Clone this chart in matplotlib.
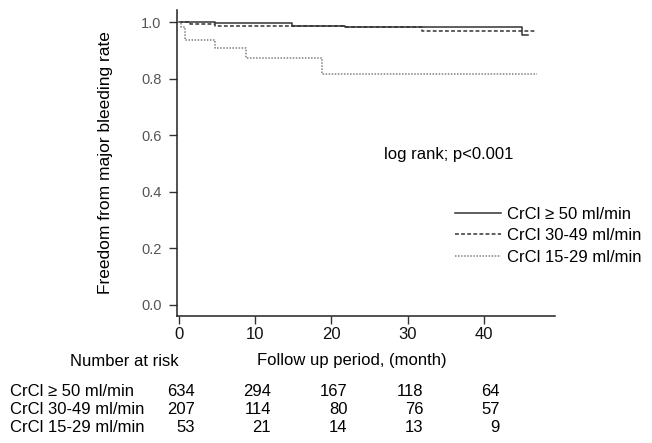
import matplotlib
matplotlib.use('Agg')
import matplotlib.pyplot as plt
import matplotlib.transforms as mtransforms

plt.rcParams['font.family'] = ['Liberation Sans', 'DejaVu Sans']

# Kaplan-Meier step curves (time in months, survival)
t_50 = [0, 4.8, 14.9, 21.8, 45.0, 45.8]
s_50 = [1.0, 0.997, 0.987, 0.983, 0.954, 0.954]
t_30 = [0, 1.5, 4.7, 21.8, 31.9, 46.7]
s_30 = [1.0, 0.994, 0.985, 0.982, 0.968, 0.968]
t_15 = [0, 0.3, 0.8, 4.7, 8.8, 18.8, 47.0]
s_15 = [1.0, 0.981, 0.936, 0.910, 0.872, 0.816, 0.816]

labels = ['CrCl \u2265 50 ml/min', 'CrCl 30-49 ml/min', 'CrCl 15-29 ml/min']
risk_times = [0, 10, 20, 30, 40]
risk_50 = [634, 294, 167, 118, 64]
risk_30 = [207, 114, 80, 76, 57]
risk_15 = [53, 21, 14, 13, 9]

fig = plt.figure(figsize=(6.52, 4.43), dpi=100)
ax = fig.add_axes([0.271, 0.287, 0.580, 0.690])

ax.step(t_50, s_50, where='post', color='#333333', lw=1.1, label=labels[0])
ax.step(t_30, s_30, where='post', color='#333333', lw=1.1, ls=(0, (2.5, 1.5)), label=labels[1])
ax.step(t_15, s_15, where='post', color='#808080', lw=1.1, ls=(0, (1, 1)), label=labels[2])

ax.set_xlim(-0.26, 49.3)
ax.set_ylim(-0.039, 1.042)
ax.set_xticks(risk_times)
ax.set_yticks([0.0, 0.2, 0.4, 0.6, 0.8, 1.0])
ax.set_yticklabels(['0.0', '0.2', '0.4', '0.6', '0.8', '1.0'])
for s in ['top', 'right']:
    ax.spines[s].set_visible(False)
for s in ['left', 'bottom']:
    ax.spines[s].set_color('#222222')
    ax.spines[s].set_linewidth(1.1)
ax.tick_params(axis='y', length=6, width=1, color='#333333', labelsize=10.5,
               labelcolor='#555555', pad=5)
ax.tick_params(axis='x', length=6, width=1, color='#333333', labelsize=12,
               labelcolor='#111111', pad=2)
ax.set_ylabel('Freedom from major bleeding rate', fontsize=12.5, labelpad=20)

ax.text(35.4, 0.53, 'log rank; p<0.001', fontsize=12, ha='center', va='center')

ax.legend(loc='center left', bbox_to_anchor=(0.735, 0.262), frameon=False,
          fontsize=12, handlelength=2.8, handletextpad=0.35, labelspacing=0.4,
          borderaxespad=0, borderpad=0)

# number at risk table
tr = mtransforms.blended_transform_factory(ax.transData, fig.transFigure)
fig.text(124 / 652, 1 - 361 / 443, 'Number at risk', fontsize=12, ha='center', va='center')
fig.text(352 / 652, 1 - 361 / 443, 'Follow up period, (month)', fontsize=12, ha='center', va='center')
rows_y = [392, 410, 428]
for lab, counts, yy in zip(labels, [risk_50, risk_30, risk_15], rows_y):
    fig.text(10 / 652, 1 - yy / 443, lab, fontsize=12, ha='left', va='center')
    for t, c in zip(risk_times, counts):
        ax.text(t + 2.1, 1 - yy / 443, str(c), fontsize=12, ha='right', va='center',
                transform=tr, clip_on=False)

fig.savefig('out.png', dpi=100)
